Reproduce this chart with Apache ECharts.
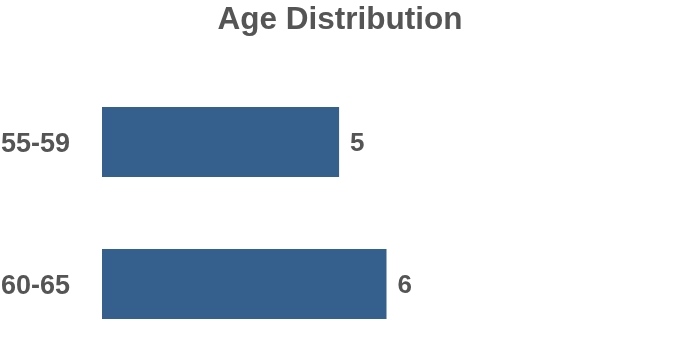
<!DOCTYPE html>
<html>
<head>
<meta charset="utf-8">
<script src="https://cdn.jsdelivr.net/npm/echarts@6/dist/echarts.min.js"></script>
<style>html,body{margin:0;padding:0;background:#fff}#c{width:680px;height:360px}</style>
</head>
<body>
<div id="c"></div>
<script>
const categories = ['55-59', '60-65'];
const values = [5, 6];
const chart = echarts.init(document.getElementById('c'), null, {renderer: 'canvas'});
const FONT = '"Liberation Sans", Arial, sans-serif';
chart.setOption({
  animation: false,
  title: {
    text: 'Age Distribution', left: 'center', top: -1,
    textStyle: {fontFamily: FONT, fontSize: 31.5, fontWeight: 'bold', color: '#555555'}
  },
  grid: {left: 102, right: 9, top: 71, bottom: 5, containLabel: false, outerBoundsMode: 'none'},
  xAxis: {type: 'value', min: 0, max: 12, show: false},
  yAxis: {
    type: 'category', data: categories, inverse: true,
    axisLine: {show: false}, axisTick: {show: false}, splitLine: {show: false},
    axisLabel: {fontFamily: FONT, fontSize: 27, fontWeight: 'bold', color: '#555555', margin: 32,
      verticalAlign: 'top', lineHeight: 6}
  },
  series: [{
    type: 'bar', data: values, barWidth: 70,
    itemStyle: {color: '#35608d'},
    label: {show: true, position: 'right', distance: 11, offset: [0, 2], fontFamily: FONT, fontSize: 26, fontWeight: 'bold', color: '#555555'}
  }]
});
</script>
</body>
</html>
